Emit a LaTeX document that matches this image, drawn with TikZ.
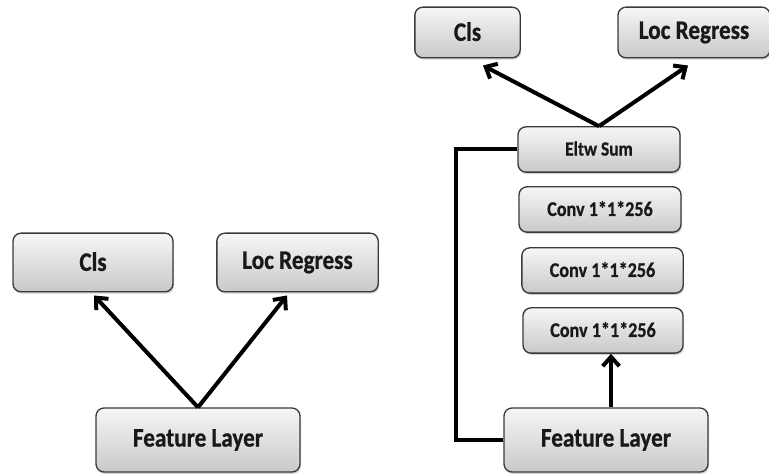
\documentclass[tikz,border=0pt]{standalone}
\usepackage{fontspec}
\setmainfont{Carlito}[BoldFeatures={FakeBold=0.8}]
\usetikzlibrary{arrows.meta,shadows,calc}

\definecolor{boxedge}{HTML}{3A3A3A}
\definecolor{boxtop}{HTML}{F6F6F6}
\definecolor{boxbottom}{HTML}{C9C9C9}

\tikzset{
  block/.style={
    draw=boxedge, line width=1pt, rounded corners=6pt,
    top color=boxtop, bottom color=boxbottom,
    drop shadow={shadow xshift=0.8pt, shadow yshift=-1.4pt, opacity=0.35},
    inner sep=0pt, align=center, text=black!90
  },
  bigtext/.style={font=\fontsize{17.4pt}{20pt}\selectfont\bfseries},
  smalltext/.style={font=\fontsize{13.6pt}{16pt}\selectfont\bfseries},
  sumtext/.style={font=\fontsize{13.1pt}{15pt}\selectfont\bfseries},
  arr/.style={line width=3pt, -{Straight Barb[length=7pt,width=12.5pt,line width=3pt]}},
  link/.style={line width=3pt}
}
\newcommand{\tall}[1]{\raisebox{1.5pt}{\scalebox{1}[1.15]{#1}}}

\begin{document}
\begin{tikzpicture}[x=0.75pt, y=-0.75pt]
  \useasboundingbox (0,0) rectangle (769,474);

  % plain head: one feature layer feeding both outputs
  \node[block, bigtext, minimum width=120pt, minimum height=44pt] (cls1) at (93,262.5) {\tall{Cls}};
  \node[block, bigtext, minimum width=121pt, minimum height=44pt] (loc1) at (297.5,262.5) {\tall{Loc Regress}};
  \node[block, bigtext, minimum width=153pt, minimum height=48pt] (fl1) at (198,440) {\tall{Feature Layer}};

  \draw[arr] (fl1.north) -- ($(cls1.south)+(1,3)$);
  \draw[arr] (fl1.north) -- ($(loc1.south)+(-10.5,3)$);

  % residual head: three 1x1 convs plus a skip connection
  \node[block, bigtext, minimum width=79pt, minimum height=38pt] (cls2) at (467.5,32.5) {\tall{Cls}};
  \node[block, bigtext, minimum width=114pt, minimum height=38pt] (loc2) at (694,32.5) {\tall{Loc Regress}};
  \node[block, sumtext, minimum width=121.5pt, minimum height=34pt] (eltw) at (599,149.5) {\tall{Eltw Sum}};
  \node[block, smalltext, minimum width=121.5pt, minimum height=34pt] (conv1) at (600,209.5) {\tall{Conv 1*1*256}};
  \node[block, smalltext, minimum width=121pt, minimum height=34pt] (conv2) at (602.5,270.5) {\tall{Conv 1*1*256}};
  \node[block, smalltext, minimum width=120pt, minimum height=34pt] (conv3) at (603,330.5) {\tall{Conv 1*1*256}};
  \node[block, bigtext, minimum width=153pt, minimum height=48pt] (fl2) at (606,440) {\tall{Feature Layer}};

  \draw[arr] (eltw.north) -- ($(cls2.south)+(15.5,7)$);
  \draw[arr] (eltw.north) -- ($(loc2.south)+(-6,7)$);
  \draw[arr] ([xshift=3.75pt]fl2.north) -- ([xshift=6pt]conv3.south);
  \draw[link] (fl2.west) -- ++(-47,0) |- (eltw.west);
\end{tikzpicture}
\end{document}
